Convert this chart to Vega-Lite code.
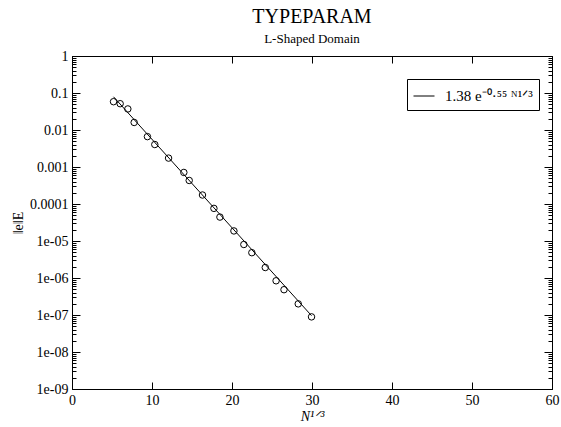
{
  "$schema": "https://vega.github.io/schema/vega-lite/v6.json",
  "width": 480,
  "height": 333,
  "autosize": "none",
  "padding": {"left": 72, "top": 56, "right": 9, "bottom": 38},
  "background": "white",
  "title": {
    "text": "TYPEPARAM",
    "subtitle": "L-Shaped Domain",
    "font": "Liberation Serif",
    "fontSize": 20,
    "fontWeight": "normal",
    "color": "black",
    "subtitleFont": "Liberation Serif",
    "subtitleFontSize": 13,
    "subtitleColor": "black",
    "subtitlePadding": 6,
    "anchor": "middle",
    "offset": 3
  },
  "datasets": {
    "points": [
      {"n": 5.19, "err": 0.0582},
      {"n": 6.02, "err": 0.0514},
      {"n": 6.98, "err": 0.0371},
      {"n": 7.77, "err": 0.0160},
      {"n": 9.43, "err": 0.00662},
      {"n": 10.35, "err": 0.00405},
      {"n": 12.07, "err": 0.00174},
      {"n": 13.98, "err": 0.000713},
      {"n": 14.65, "err": 0.000433},
      {"n": 16.31, "err": 0.000175},
      {"n": 17.74, "err": 7.62e-5},
      {"n": 18.49, "err": 4.43e-5},
      {"n": 20.24, "err": 1.87e-5},
      {"n": 21.48, "err": 8.05e-6},
      {"n": 22.48, "err": 4.83e-6},
      {"n": 24.16, "err": 1.92e-6},
      {"n": 25.51, "err": 8.41e-7},
      {"n": 26.50, "err": 4.83e-7},
      {"n": 28.28, "err": 2.0e-7},
      {"n": 29.94, "err": 8.9e-8}
    ],
    "fit": [
      {"n": 5.19, "err": 0.079, "series": "1.38 e⁻⁰·⁵⁵ ᴺ¹ᐟ³"},
      {"n": 29.94, "err": 9.6e-8, "series": "1.38 e⁻⁰·⁵⁵ ᴺ¹ᐟ³"}
    ]
  },
  "config": {
    "view": {"stroke": "black", "strokeWidth": 1},
    "axis": {
      "domainColor": "black",
      "labelColor": "black",
      "labelFont": "Liberation Serif",
      "labelFontSize": 14,
      "titleFont": "Liberation Serif",
      "titleFontSize": 14,
      "titleFontWeight": "normal",
      "titleColor": "black"
    }
  },
  "resolve": {"axis": {"x": "independent", "y": "independent"}},
  "layer": [
    {
      "data": {"name": "points"},
      "mark": {"type": "point", "shape": "circle", "filled": false, "stroke": "black", "strokeWidth": 1, "size": 42, "opacity": 1},
      "encoding": {
        "x": {
          "field": "n", "type": "quantitative",
          "scale": {"domain": [0, 60], "nice": false, "zero": false},
          "axis": {
            "orient": "bottom",
            "tickCount": 6,
            "ticks": false,
            "grid": true,
            "gridColor": "black",
            "gridWidth": 1,
            "gridOpacity": 1,
            "gridDash": [7, 1000],
            "labelPadding": 4,
            "labelFlush": false,
            "title": "N¹ᐟ³",
            "titleFontStyle": "italic",
            "titlePadding": 2
          }
        },
        "y": {
          "field": "err", "type": "quantitative",
          "scale": {"type": "log", "domain": [1e-9, 1], "nice": false},
          "axis": {
            "orient": "left",
            "tickCount": 100,
            "ticks": false,
            "grid": true,
            "gridColor": "black",
            "gridWidth": 1,
            "gridOpacity": 1,
            "gridDash": {"condition": {"test": "abs(log(datum.value)/LN10 - round(log(datum.value)/LN10)) < 0.001", "value": [8, 1000]}, "value": [4, 1000]},
            "labelOverlap": false,
            "labelBound": false,
            "labelPadding": 4,
            "labelFlush": false,
            "labelExpr": "abs(log(datum.value)/LN10 - round(log(datum.value)/LN10)) < 0.001 ? (datum.value >= 0.00009 ? format(datum.value, '~g') : replace(format(datum.value, '.0e'), 'e-', 'e-0')) : ''",
            "title": "‖e‖E",
            "titlePadding": 4
          }
        }
      }
    },
    {
      "data": {"name": "fit"},
      "mark": {"type": "line", "strokeWidth": 1},
      "encoding": {
        "x": {
          "field": "n", "type": "quantitative",
          "axis": {
            "orient": "top", "tickCount": 6, "ticks": false, "domain": false, "labels": false, "title": null,
            "grid": true, "gridColor": "black", "gridWidth": 1, "gridOpacity": 1, "gridDash": [7, 1000]
          }
        },
        "y": {
          "field": "err", "type": "quantitative",
          "axis": {
            "orient": "right", "tickCount": 10, "tickColor": "black", "offset": -4, "tickSize": 4, "domain": false, "labels": false, "title": null,
            "grid": true, "gridColor": "black", "gridWidth": 1, "gridOpacity": 1,
            "gridDash": {"condition": {"test": "abs(log(datum.value)/LN10 - round(log(datum.value)/LN10)) < 0.001", "value": [8, 1000]}, "value": [0, 1000]}
          }
        },
        "color": {
          "field": "series", "type": "nominal",
          "scale": {"range": ["black"]},
          "legend": {
            "title": null,
            "orient": "none",
            "legendX": 335,
            "legendY": 23,
            "symbolType": "stroke",
            "symbolSize": 441,
            "symbolStrokeWidth": 1,
            "symbolStrokeColor": "black",
            "labelFont": "Liberation Serif",
            "labelFontSize": 15,
            "labelColor": "black",
            "labelOffset": 10,
            "labelLimit": 300,
            "strokeColor": "black",
            "fillColor": "white",
            "padding": 6
          }
        }
      }
    }
  ]
}
